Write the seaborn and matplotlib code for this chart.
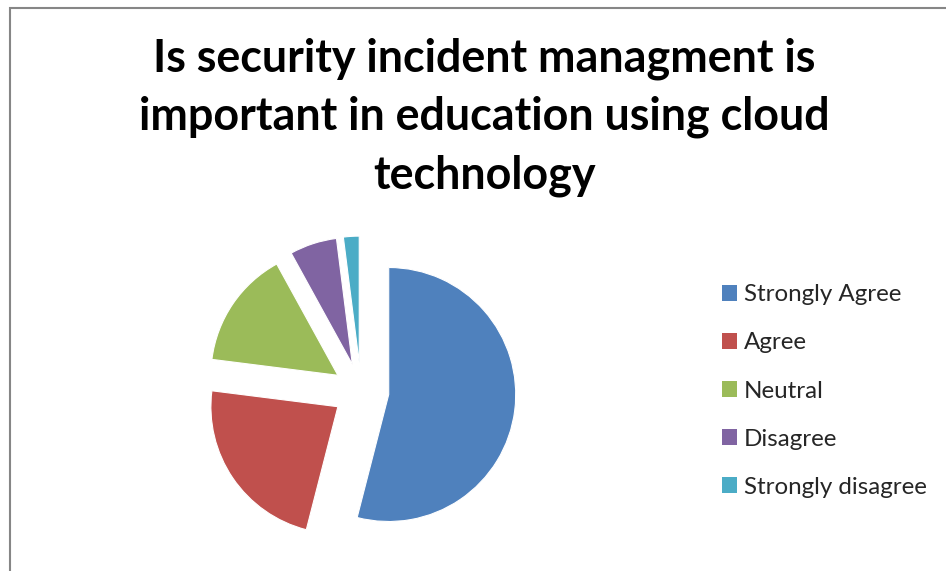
import matplotlib
matplotlib.use("Agg")
import matplotlib.pyplot as plt
from matplotlib.patches import Rectangle, Patch
import seaborn as sns

categories = ["Strongly Agree", "Agree", "Neutral", "Disagree", "Strongly disagree"]
values = [54, 23, 15, 6, 2]
colors = ["#4F81BD", "#C0504D", "#9BBB59", "#8064A2", "#4BACC6"]
title_text = "Is security incident managment is\nimportant in education using cloud\ntechnology"

sns.set_theme(style="white")
plt.rcParams["font.family"] = ["Lato", "DejaVu Sans"]

W, H = 946, 571
fig = plt.figure(figsize=(W / 100, H / 100), dpi=100)
fig.patch.set_facecolor("white")

# pie axes mapped so 1 data unit = R pixels
R = 127.0
cx, cy = 361.0, 391.0
ax = fig.add_axes([0, 0, 1, 1])
wedges, _ = ax.pie(values, colors=colors, startangle=90, counterclock=False,
                   explode=[0.22] * len(values), radius=1.0,
                   wedgeprops=dict(linewidth=0.8, edgecolor="white"))
ax.set_aspect("auto")
ax.set_xlim(-cx / R, (W - cx) / R)
ax.set_ylim(-(H - cy) / R, cy / R)
ax.axis("off")

# chart border
fig.add_artist(Rectangle((9.5 / W, -0.01), 1.05, (H - 7.5) / H + 0.01,
                         transform=fig.transFigure, fill=False,
                         edgecolor="#868686", linewidth=1.5))

# title
fig.text(484 / W, 1 - 117 / H, title_text, ha="center", va="center",
         fontsize=32.3, fontweight="bold", color="black", linespacing=1.47)

# legend
handles = [Patch(facecolor=c, edgecolor="none") for c in colors]
leg = fig.legend(handles, categories, loc="center left",
                 bbox_to_anchor=(722 / W, 1 - 391 / H), frameon=False,
                 fontsize=17.4, handlelength=0.62, handleheight=0.62,
                 handletextpad=0.28, labelspacing=1.12, borderpad=0,
                 borderaxespad=0)

fig.savefig("out.png", dpi=100, facecolor="white")
